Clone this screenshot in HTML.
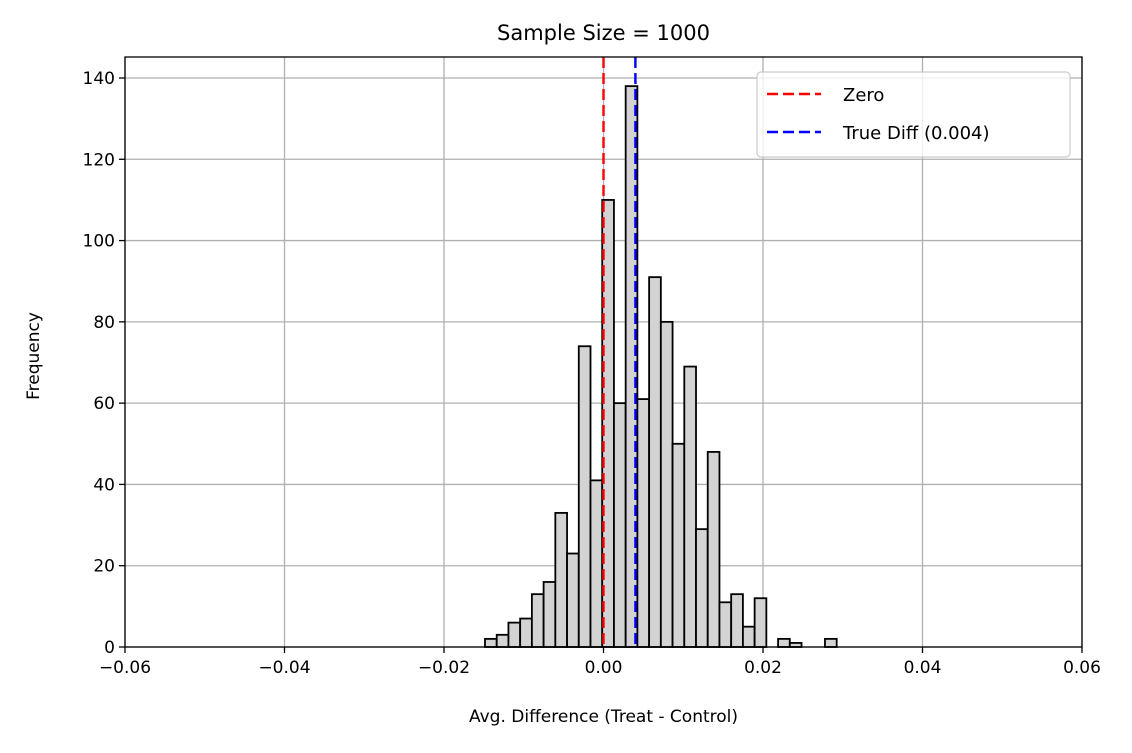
<!DOCTYPE html>
<html><head><meta charset="utf-8"><style>
body{margin:0;background:#fff;}
svg text{font-family:"DejaVu Sans","Liberation Sans",sans-serif;fill:#000;}
</style></head><body>
<svg id="chart" width="1132" height="748" xmlns="http://www.w3.org/2000/svg">
<rect width="1132" height="748" fill="#fff"/>
<g id="grid"></g>
<g id="bars"></g>
<g id="lines"></g>
<rect x="125" y="57" width="957" height="590" fill="none" stroke="#000" stroke-width="1.3"/>
<g id="ticks"></g>
<text x="603.5" y="40" font-size="21" text-anchor="middle">Sample Size = 1000</text>
<text x="603.5" y="722" font-size="17" text-anchor="middle">Avg. Difference (Treat - Control)</text>
<text x="39" y="356" font-size="17" text-anchor="middle" transform="rotate(-90 39 356)">Frequency</text>
<g>
<rect x="757" y="72" width="313" height="85" rx="4" fill="#fff" fill-opacity="0.8" stroke="#ccc" stroke-width="1.2"/>
<line x1="767" y1="94" x2="821" y2="94" stroke="#f00" stroke-width="2.4" stroke-dasharray="11,5"/>
<text x="843" y="101" font-size="18">Zero</text>
<line x1="767" y1="132" x2="821" y2="132" stroke="#00f" stroke-width="2.4" stroke-dasharray="11,5"/>
<text x="843" y="139" font-size="18">True Diff (0.004)</text>
</g>
</svg>
<script>
const binStart = -0.01486;
const binWidth = 0.00147;
const counts = [2,3,6,7,13,16,33,23,74,41,110,60,138,61,91,80,50,69,29,48,11,13,5,12,0,2,1,0,0,2];
const xTicks = [-0.06,-0.04,-0.02,0.00,0.02,0.04,0.06];
const xTickLabels = ["\u22120.06","\u22120.04","\u22120.02","0.00","0.02","0.04","0.06"];
const yTicks = [0,20,40,60,80,100,120,140];
const zeroValue = 0;
const trueDiff = 0.004;

const X0=125,X1=1082,Y0=647,Y1=57;
const xs=v=>X0+(v+0.06)/0.12*(X1-X0);
const ys=v=>Y0-v*(647-78)/140;
const NS="http://www.w3.org/2000/svg";
function mk(tag,attrs,parent){const e=document.createElementNS(NS,tag);for(const k in attrs)e.setAttribute(k,attrs[k]);document.getElementById(parent).appendChild(e);return e;}

xTicks.forEach((t,i)=>{
  const x=xs(t);
  const g=mk('line',{x1:x,y1:Y1,x2:x,y2:Y0,stroke:'#b0b0b0','stroke-width':1.3},'grid');
  
  
  const tk=mk('line',{x1:x,y1:Y0,x2:x,y2:Y0+6,stroke:'#000','stroke-width':1.3},'ticks');
  
  
  const tx=mk('text',{x:x,y:Y0+26,'font-size':17,'text-anchor':'middle'},'ticks');
  tx.textContent=xTickLabels[i];
  
  
});
yTicks.forEach(t=>{
  const y=ys(t);
  const g=mk('line',{x1:X0,y1:y,x2:X1,y2:y,stroke:'#b0b0b0','stroke-width':1.3},'grid');
  
  
  const tk=mk('line',{x1:X0-6,y1:y,x2:X0,y2:y,stroke:'#000','stroke-width':1.3},'ticks');
  
  
  const tx=mk('text',{x:X0-10,y:y+6,'font-size':17,'text-anchor':'end'},'ticks');
  tx.textContent=String(t);
  
  
});
counts.forEach((c,i)=>{
  if(c<=0)return;
  const a=xs(binStart+i*binWidth),b=xs(binStart+(i+1)*binWidth);
  const r=mk('rect',{x:a,y:ys(c),width:b-a,height:ys(0)-ys(c),fill:'#d3d3d3',stroke:'#000','stroke-width':1.8},'bars');
  
  
});
const zl=mk('line',{x1:xs(zeroValue),y1:Y1,x2:xs(zeroValue),y2:Y0,stroke:'#f00','stroke-width':2.4,'stroke-dasharray':'11,5'},'lines');


const tl=mk('line',{x1:xs(trueDiff),y1:Y1,x2:xs(trueDiff),y2:Y0,stroke:'#00f','stroke-width':2.4,'stroke-dasharray':'11,5'},'lines');


</script>
</body></html>
